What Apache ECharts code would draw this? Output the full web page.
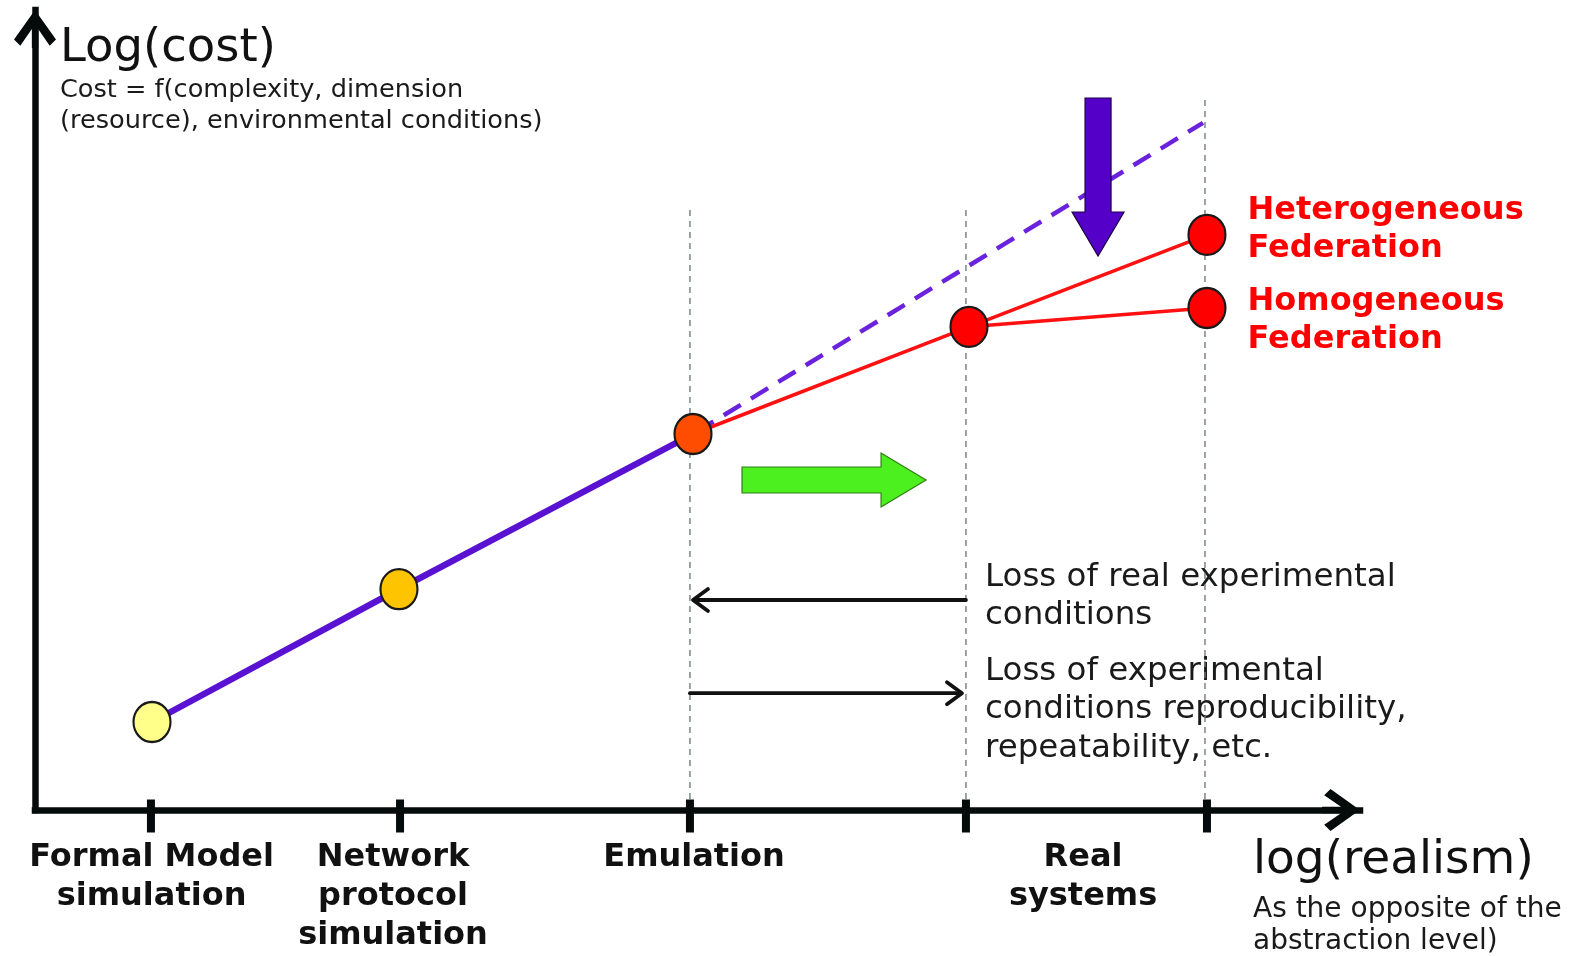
<!DOCTYPE html>
<html>
<head>
<meta charset="utf-8">
<script src="https://cdn.jsdelivr.net/npm/echarts@6/dist/echarts.min.js"></script>
<style>
  html, body { margin: 0; padding: 0; background: #ffffff; }
  #chart { width: 1569px; height: 956px; }
</style>
</head>
<body>
<div id="chart"></div>
<script>
// ---------- data (abstract units: realism 0..100, cost 0..100) ----------
const categories = ['Formal Model\nsimulation', 'Network\nprotocol\nsimulation', 'Emulation', 'Real\nsystems'];
const categoryLabelX = [8.8, 27.02, 49.74, 79.1];
const tickX = [8.75, 27.55, 49.43, 70.26, 88.45];

const stages = ['Formal Model simulation', 'Network protocol simulation', 'Emulation', 'Real systems', 'Heterogeneous Federation', 'Homogeneous Federation'];
const realism = [8.83, 27.47, 49.66, 70.49, 88.45, 88.45];
const cost = [11.0, 27.6, 47.0, 60.4, 71.9, 62.75];

// extrapolated (dashed) cost trend
const trendX = [49.66, 88.15];
const trendY = [47.0, 85.9];

// vertical guide lines
const guideX = [49.43, 70.26, 88.3];
const guideTop = [75.0, 75.6, 89.1];

// block arrows [x1, y1, x2, y2]
const blockArrows = [
  [53.36, 41.25, 67.25, 41.25],   // green: towards realism
  [80.23, 89.0, 80.23, 69.25]     // purple: cost reduction
];
// thin arrows [x1, y1, x2, y2]
const thinArrows = [
  [70.26, 26.25, 49.66, 26.25],
  [49.43, 14.6, 69.96, 14.6]
];

// ---------- styles ----------
const pointColors = ['#ffff8a', '#ffc400', '#ff4d00', '#ff0000', '#ff0000', '#ff0000'];
const blockStyles = [
  { fill: '#4cf01e', stroke: '#2f7d14', bw: 13, hw: 27, hl: 45 },
  { fill: '#5500c8', stroke: '#1c0046', bw: 13, hw: 26, hl: 44 }
];
const FONT = "'DejaVu Sans', Verdana, sans-serif";

const chart = echarts.init(document.getElementById('chart'));

function pt(i) { return [realism[i], cost[i]]; }

const chevron = 'path://M20 0 L40 28 L34 34 L23 18 L23 36 L17 36 L17 18 L6 34 L0 28 Z';

const series = [];

// guide lines
guideX.forEach((gx, i) => {
  series.push({
    type: 'line', silent: true, symbol: 'none', z: 1,
    data: [[gx, 0], [gx, guideTop[i]]],
    lineStyle: { color: '#6f7d7d', width: 1.4, type: [6, 5] }
  });
});

// dashed trend
series.push({
  type: 'line', silent: true, symbol: 'none', z: 2,
  data: trendX.map((x, i) => [x, trendY[i]]),
  lineStyle: { color: '#6a22dc', width: 4.5, type: [20, 12], dashOffset: -4 }
});

// red federation lines
series.push({
  type: 'line', silent: true, symbol: 'none', z: 3,
  data: [pt(2), pt(3), pt(4)],
  lineStyle: { color: '#ff1111', width: 3.5 }
});
series.push({
  type: 'line', silent: true, symbol: 'none', z: 3,
  data: [pt(3), pt(5)],
  lineStyle: { color: '#ff1111', width: 3.5 }
});

// purple simulation line
series.push({
  type: 'line', silent: true, symbol: 'none', z: 4,
  data: [pt(0), pt(1), pt(2)],
  lineStyle: { color: '#5a12d2', width: 6.5 }
});

// block arrows
series.push({
  type: 'custom', silent: true, z: 6,
  data: blockArrows,
  encode: { x: [0, 2], y: [1, 3] },
  renderItem: function (params, api) {
    const s = blockStyles[params.dataIndex];
    const p1 = api.coord([api.value(0), api.value(1)]);
    const p2 = api.coord([api.value(2), api.value(3)]);
    const dx = p2[0] - p1[0], dy = p2[1] - p1[1];
    const L = Math.sqrt(dx * dx + dy * dy);
    const ux = dx / L, uy = dy / L, nx = -uy, ny = ux;
    const bx = p2[0] - ux * s.hl, by = p2[1] - uy * s.hl;
    const pts = [
      [p1[0] + nx * s.bw, p1[1] + ny * s.bw],
      [bx + nx * s.bw, by + ny * s.bw],
      [bx + nx * s.hw, by + ny * s.hw],
      [p2[0], p2[1]],
      [bx - nx * s.hw, by - ny * s.hw],
      [bx - nx * s.bw, by - ny * s.bw],
      [p1[0] - nx * s.bw, p1[1] - ny * s.bw]
    ];
    return { type: 'polygon', shape: { points: pts }, style: { fill: s.fill, stroke: s.stroke, lineWidth: 1.2 } };
  }
});

// thin arrows
series.push({
  type: 'custom', silent: true, z: 6,
  data: thinArrows,
  encode: { x: [0, 2], y: [1, 3] },
  renderItem: function (params, api) {
    const p1 = api.coord([api.value(0), api.value(1)]);
    const p2 = api.coord([api.value(2), api.value(3)]);
    const dx = p2[0] - p1[0], dy = p2[1] - p1[1];
    const L = Math.sqrt(dx * dx + dy * dy);
    const ux = dx / L, uy = dy / L, nx = -uy, ny = ux;
    const back = 15, spread = 11;
    const st = { stroke: '#111111', lineWidth: 3.8, fill: null, lineCap: 'round', lineJoin: 'round' };
    return {
      type: 'group',
      children: [
        { type: 'line', shape: { x1: p1[0], y1: p1[1], x2: p2[0] - ux * 1.5, y2: p2[1] - uy * 1.5 }, style: st },
        { type: 'polyline', shape: { points: [
          [p2[0] - ux * back + nx * spread, p2[1] - uy * back + ny * spread],
          [p2[0], p2[1]],
          [p2[0] - ux * back - nx * spread, p2[1] - uy * back - ny * spread]
        ] }, style: st }
      ]
    };
  }
});

// stage markers
const labelOffsets = { 4: [0, -5], 5: [0, 13] };
series.push({
  type: 'scatter', silent: true, z: 8,
  symbol: 'circle', symbolSize: [37, 40],
  data: stages.map((name, i) => {
    const item = {
      name: name,
      value: pt(i),
      itemStyle: { color: pointColors[i], borderColor: '#1a1a1a', borderWidth: 2.2, opacity: 1 }
    };
    if (labelOffsets[i]) {
      item.label = {
        show: true, position: 'right', distance: 21, offset: labelOffsets[i],
        formatter: name.replace(' ', '\n'),
        color: '#ff0000', fontFamily: FONT, fontWeight: 'bold', fontSize: 32, lineHeight: 38
      };
    }
    return item;
  })
});

// axis ticks
series.push({
  type: 'scatter', silent: true, z: 9, clip: false,
  symbol: 'rect', symbolSize: [8, 33], symbolOffset: [0, 6],
  itemStyle: { color: '#050a0a', opacity: 1 },
  data: tickX.map(x => [x, 0])
});

const option = {
  animation: false,
  backgroundColor: '#ffffff',
  grid: { left: 35, top: 10, width: 1325, height: 800 },
  xAxis: {
    type: 'value', min: 0, max: 100,
    axisLine: {
      show: true, onZero: false,
      lineStyle: { color: '#050a0a', width: 6.5, cap: 'square' },
      symbol: ['none', chevron], symbolSize: [42, 38], symbolOffset: [0, -19]
    },
    axisTick: { show: false },
    splitLine: { show: false },
    axisLabel: {
      show: true,
      customValues: categoryLabelX,
      formatter: function (v) {
        let idx = 0, best = 1e9;
        categoryLabelX.forEach((c, i) => { if (Math.abs(c - v) < best) { best = Math.abs(c - v); idx = i; } });
        return categories[idx];
      },
      margin: 28,
      color: '#111111', fontFamily: FONT, fontWeight: 'bold', fontSize: 32, lineHeight: 39,
      align: 'center', verticalAlign: 'top'
    }
  },
  yAxis: {
    type: 'value', min: 0, max: 100,
    axisLine: {
      show: true, onZero: false,
      lineStyle: { color: '#050a0a', width: 6.5, cap: 'square' },
      symbol: ['none', chevron], symbolSize: [42, 38], symbolOffset: [0, -19]
    },
    axisTick: { show: false },
    splitLine: { show: false },
    axisLabel: { show: false }
  },
  graphic: [
    { type: 'text', left: 60, top: 25, style: { text: 'Log(cost)', font: "46.5px " + FONT, fill: '#111111' } },
    { type: 'text', left: 60, top: 77, style: { text: 'Cost = f(complexity, dimension', font: "25.6px " + FONT, fill: '#1a1a1a' } },
    { type: 'text', left: 60, top: 108, style: { text: '(resource), environmental conditions)', font: "25.6px " + FONT, fill: '#1a1a1a' } },
    { type: 'text', left: 1253, top: 837, style: { text: 'log(realism)', font: "47px " + FONT, fill: '#111111' } },
    { type: 'text', left: 1253, top: 896, style: { text: 'As the opposite of the', font: "28px " + FONT, fill: '#1a1a1a' } },
    { type: 'text', left: 1253, top: 928, style: { text: 'abstraction level)', font: "28px " + FONT, fill: '#1a1a1a' } },
    { type: 'text', left: 985, top: 559, style: { text: 'Loss of real experimental\nconditions', font: "32.5px " + FONT, lineHeight: 38, fill: '#1a1a1a' } },
    { type: 'text', left: 985, top: 652, style: { text: 'Loss of experimental\nconditions reproducibility,\nrepeatability, etc.', font: "32.5px " + FONT, lineHeight: 38.5, fill: '#1a1a1a' } }
  ],
  series: series
};

chart.setOption(option);
</script>
</body>
</html>
